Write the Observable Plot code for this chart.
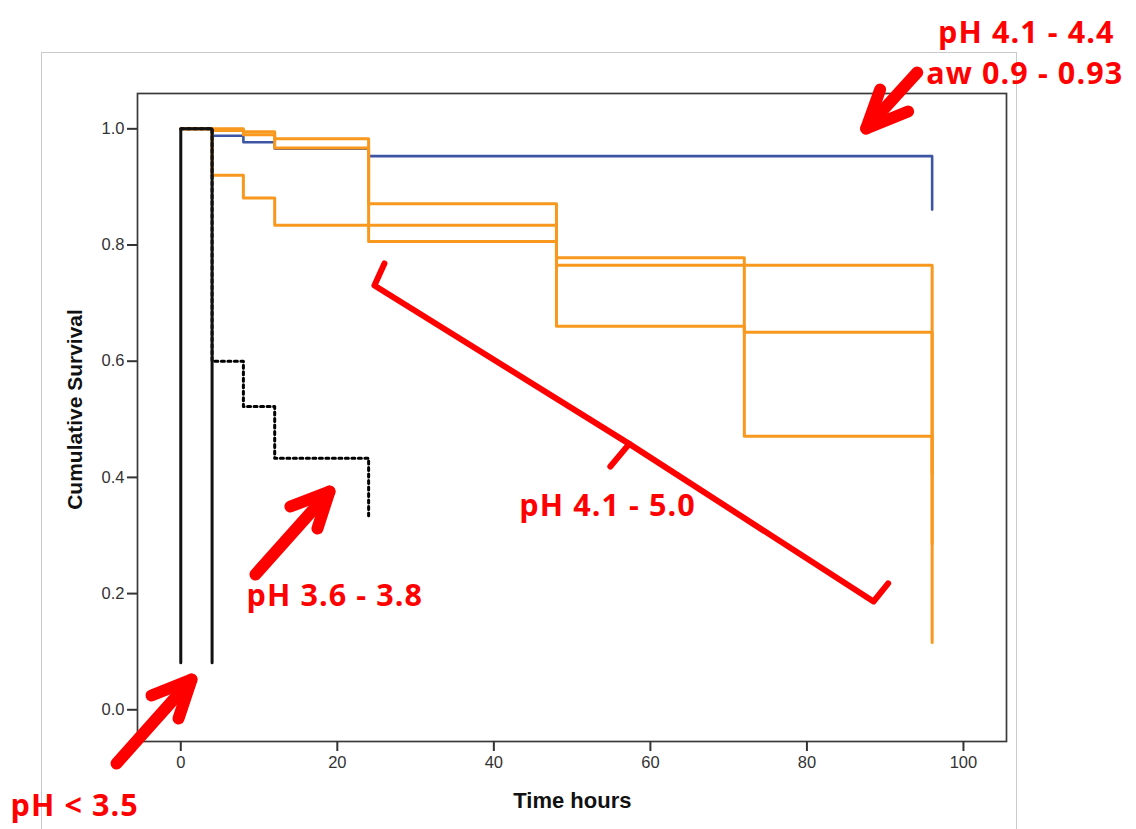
<!DOCTYPE html>
<html><head><meta charset="utf-8">
<script src="https://cdn.jsdelivr.net/npm/d3@7"></script>
<script src="https://cdn.jsdelivr.net/npm/@observablehq/plot@0.6"></script>
<style>
html,body{margin:0;padding:0;background:#fff;}
#wrap{position:relative;width:1136px;height:829px;overflow:hidden;}
#outer{position:absolute;left:41px;top:52px;width:974px;height:840px;border:1px solid #cacaca;}
#chart{position:absolute;left:0;top:0;}
</style></head><body>
<div id="wrap"><div id="outer"></div><div id="chart"></div></div>
<script>
// ---- survival curves (time in hours, cumulative survival) ----
const blueTime = [0, 4, 8, 12, 24, 96];
const blueSurv = [1, 0.988, 0.977, 0.966, 0.953, 0.861];
const orange1Time = [0, 4, 8, 12, 24, 48, 72, 96];
const orange1Surv = [1, 0.997, 0.995, 0.983, 0.871, 0.778, 0.65, 0.407];
const orange2Time = [0, 8, 12, 24, 48, 96];
const orange2Surv = [1, 0.99, 0.967, 0.806, 0.765, 0.116];
const orange3Time = [0, 4, 8, 12, 48, 72, 96];
const orange3Surv = [1, 0.92, 0.881, 0.834, 0.66, 0.471, 0.286];
const lowPhTime = [0, 0, 4, 4];
const lowPhSurv = [0.081, 1, 1, 0.081];
const midPhTime = [0, 4, 8, 12, 24];
const midPhSurv = [1, 0.6, 0.522, 0.433, 0.334];

// ---- axes ----
const xTicks = [0, 20, 40, 60, 80, 100];
const yTicks = [0, 0.2, 0.4, 0.6, 0.8, 1.0];
const xTitle = "Time hours";
const yTitle = "Cumulative Survival";

// ---- red annotations (in data units) ----
const noteText = ["pH 4.1 - 4.4", "aw 0.9 - 0.93", "pH 3.6 - 3.8", "pH < 3.5", "pH 4.1 - 5.0"];
const noteX = [96.75, 95.25, 8.4, -21.75, 43.25];
const noteY = [1.1485, 1.0771, 0.1778, -0.1821, 0.3327];

const arrowId = ["a1","a1","a1","a1s","a1s", "a2","a2","a2","a2s","a2s", "a3","a3","a3","a3s","a3s"];
const arrowX = [89.36, 87.57, 92.93, 94.09, 87.57,  14.01, 19.0, 17.46, 9.54, 19.0,  -3.74, 1.37, -0.29, -8.21, 1.37];
const arrowY = [1.0676, 1.0005, 1.0298, 1.0969, 1.0005,  0.3499, 0.3757, 0.3120, 0.2329, 0.3757,  0.0246, 0.0521, -0.0150, -0.0924, 0.0521];

const bracketId = ["b","b","b","b","b","t","t"];
const bracketX = [26.02, 24.74, 57.3, 88.51, 90.38, 57.3, 54.88];
const bracketY = [0.7682, 0.7303, 0.4577, 0.1864, 0.2175, 0.4577, 0.4188];

const rows = (t, s) => t.map((d, i) => ({time: d, surv: s[i]}));
const notes = noteText.map((d, i) => ({text: d, x: noteX[i], y: noteY[i]}));
const arrows = arrowId.map((d, i) => ({id: d, x: arrowX[i], y: arrowY[i]}));
const bracket = bracketId.map((d, i) => ({id: d, x: bracketX[i], y: bracketY[i]}));

const orange = "#f8981f";
const plot = Plot.plot({
  width: 1136, height: 829,
  marginLeft: 137, marginRight: 130, marginTop: 93, marginBottom: 88,
  style: {background: "transparent", fontFamily: "'Liberation Sans', Arial, sans-serif", fontSize: "16px", overflow: "visible"},
  x: {domain: [-5.53, 105.5]},
  y: {domain: [-0.0546, 1.0608]},
  marks: [
    Plot.frame({stroke: "#3a3a3a", strokeWidth: 1.7}),
    Plot.axisX({ticks: xTicks, tickSize: 10, tickPadding: 5, fontSize: 16.5, stroke: "#333", strokeWidth: 2, fill: "#333", label: null}),
    Plot.axisY({ticks: yTicks, tickSize: 10, tickPadding: 3, fontSize: 16.5, stroke: "#333", strokeWidth: 2, fill: "#333", label: null, tickFormat: d3.format(".1f")}),
    Plot.text([xTitle], {x: () => 50.03, y: () => -0.1699, text: d => d, textAnchor: "middle", lineAnchor: "bottom", fontSize: 22, fontWeight: "bold", fill: "#111"}),
    Plot.text([yTitle], {x: () => -12.62, y: () => 0.5169, text: d => d, rotate: -90, textAnchor: "middle", lineAnchor: "bottom", fontSize: 21, fontWeight: "bold", fill: "#111"}),
    Plot.line(rows(blueTime, blueSurv), {x: "time", y: "surv", curve: "step-after", stroke: "#3c55a5", strokeWidth: 2.6}),
    Plot.line(rows(orange1Time, orange1Surv), {x: "time", y: "surv", curve: "step-after", stroke: orange, strokeWidth: 3}),
    Plot.line(rows(orange2Time, orange2Surv), {x: "time", y: "surv", curve: "step-after", stroke: orange, strokeWidth: 3}),
    Plot.line(rows(orange3Time, orange3Surv), {x: "time", y: "surv", curve: "step-after", stroke: orange, strokeWidth: 3}),
    Plot.line(rows(midPhTime, midPhSurv), {x: "time", y: "surv", curve: "step-after", stroke: "#000", strokeWidth: 3, strokeDasharray: "3,3.5"}),
    Plot.line(rows(lowPhTime, lowPhSurv), {x: "time", y: "surv", stroke: "#111", strokeWidth: 3, strokeLinejoin: "miter"}),
    Plot.line(bracket, {x: "x", y: "y", z: "id", stroke: "#ff0000", strokeWidth: 6, strokeLinecap: "round", strokeLinejoin: "round"}),
    Plot.line(arrows, {x: "x", y: "y", z: "id", stroke: "#ff0000", strokeWidth: 12, strokeLinecap: "round", strokeLinejoin: "round"}),
    Plot.text(notes, {x: "x", y: "y", text: "text", textAnchor: "start", lineAnchor: "bottom", fill: "#ff0000", fontSize: 30.5, fontWeight: "bold", fontFamily: "'Open Sans', sans-serif", className: "note"})
  ]
});
d3.select(plot).selectAll("g.note text").style("letter-spacing", "1.1px");
document.getElementById("chart").appendChild(plot);
</script>
</body></html>
